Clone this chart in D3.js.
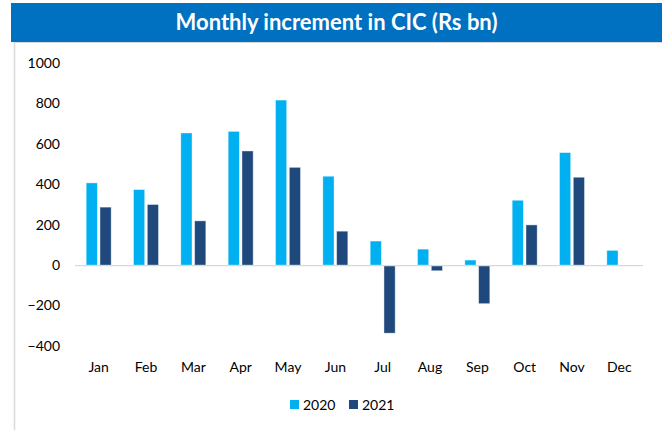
<!DOCTYPE html>
<html>
<head>
<meta charset="utf-8">
<script src="https://cdn.jsdelivr.net/npm/d3@7"></script>
<style>
  html, body { margin: 0; padding: 0; background: #fff; }
  svg { display: block; font-family: Lato, "Open Sans", sans-serif; }
</style>
</head>
<body>
<svg id="chart" width="662" height="430"></svg>
<script>
const months = ["Jan","Feb","Mar","Apr","May","Jun","Jul","Aug","Sep","Oct","Nov","Dec"];
const series = ["2020","2021"];
const values2020 = [407, 374, 654, 662, 817, 440, 119, 79, 25, 321, 557, 73];
const values2021 = [287, 300, 219, 565, 484, 168, -337, -28, -191, 199, 435, null];
const yTicks = [-400, -200, 0, 200, 400, 600, 800, 1000];
const colors = ["#00B0F0", "#1F497D"];
const title = "Monthly increment in CIC (Rs bn)";

const svg = d3.select("#chart");

// title band
svg.append("rect").attr("x", 11).attr("y", 3).attr("width", 651).attr("height", 39).attr("fill", "#0070C0");
svg.append("text").attr("x", 336.5).attr("y", 30).attr("text-anchor", "middle")
  .attr("fill", "#fff").attr("font-weight", "bold").attr("font-size", 22).text(title);

// panel borders
svg.append("line").attr("x1", 14).attr("x2", 662).attr("y1", 42.5).attr("y2", 42.5).attr("stroke", "#d9d9d9");
svg.append("line").attr("x1", 14.5).attr("x2", 14.5).attr("y1", 42).attr("y2", 430).attr("stroke", "#d9d9d9").attr("stroke-width", 1.5);

const x0 = d3.scaleBand().domain(months).range([75, 643]);
const y = d3.scaleLinear().domain([-400, 1000]).range([345.9, 63.1]);
const barW = 11.2, gap = 2.6;
const x1 = d3.scaleOrdinal().domain(series).range([-(barW + gap / 2), gap / 2]);

// y axis labels
const yAxis = d3.axisLeft(y).tickValues(yTicks).tickFormat(d3.format("d")).tickSize(0).tickPadding(0);
const yg = svg.append("g").attr("transform", "translate(60,0)").call(yAxis);
yg.select(".domain").remove();
yg.selectAll("text").attr("font-size", 14).attr("fill", "#000").attr("font-family", "Lato, sans-serif");

// bars
const data = months.map((m, i) => ({ m, vals: [values2020[i], values2021[i]] }));
const groups = svg.append("g").selectAll("g").data(data).join("g")
  .attr("transform", d => `translate(${x0(d.m) + x0.bandwidth() / 2},0)`);
groups.selectAll("rect").data(d => d.vals.map((v, j) => ({ s: series[j], v, j })).filter(e => e.v !== null))
  .join("rect")
  .attr("x", e => x1(e.s))
  .attr("width", barW)
  .attr("y", e => y(Math.max(0, e.v)))
  .attr("height", e => Math.abs(y(e.v) - y(0)))
  .attr("fill", e => colors[e.j])
  .attr("stroke", "#ffffff").attr("stroke-opacity", 0.5).attr("stroke-width", 0.8);

// zero line
svg.append("line").attr("x1", 75).attr("x2", 643).attr("y1", y(0) + 0.5).attr("y2", y(0) + 0.5)
  .attr("stroke", "#d9d9d9").attr("stroke-width", 1.2);

// x axis labels
const xAxis = d3.axisBottom(x0).tickSize(0).tickPadding(0);
const xg = svg.append("g").attr("transform", "translate(0,362)").call(xAxis);
xg.select(".domain").remove();
xg.selectAll("text").attr("font-size", 14).attr("fill", "#000").attr("font-family", "Lato, sans-serif");

// legend
const legendX = [290, 349];
const lg = svg.append("g").selectAll("g").data(series).join("g")
  .attr("transform", (d, i) => `translate(${legendX[i]},400)`);
lg.append("rect").attr("width", 9).attr("height", 9).attr("fill", (d, i) => colors[i]);
lg.append("text").attr("x", 13).attr("y", 10).attr("font-size", 14).attr("fill", "#000").text(d => d);
</script>
</body>
</html>
